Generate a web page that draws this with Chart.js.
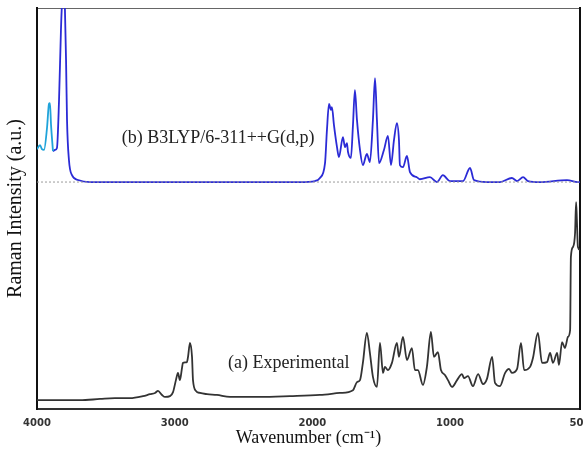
<!DOCTYPE html>
<html>
<head>
<meta charset="utf-8">
<script src="https://cdn.jsdelivr.net/npm/chart.js@4.4.0/dist/chart.umd.min.js"></script>
<style>
  html, body { margin: 0; padding: 0; background: #fff; overflow: hidden; }
  #wrap { width: 583px; height: 454px; overflow: hidden; }
</style>
</head>
<body>
<div id="wrap"><canvas id="ramanChart" width="600" height="454"></canvas></div>
<script>
// x tick marks (wavenumber, cm-1)
const xTickValues = [4000, 3000, 2000, 1000, 500];
const xTickLabels = ['4000', '3000', '2000', '1000', '500'];

// (b) calculated spectrum, first light-blue part
const calcCyanX = [4000, 3978, 3964, 3949, 3927, 3913, 3906, 3898, 3884];
const calcCyanY = [8.2, 9.2, 8.2, 8.0, 13.6, 19.5, 19.7, 14.2, 7.7];

// (b) calculated spectrum, rest
const calcX = [3884, 3869, 3855, 3840, 3826, 3818, 3804, 3797, 3789, 3782,
  3768, 3746, 3702, 3615, 2090, 1981, 1945, 1908, 1894, 1879,
  1865, 1858, 1843, 1821, 1807, 1778, 1763, 1749, 1741, 1720,
  1705, 1691, 1676, 1654, 1633, 1604, 1582, 1560, 1545, 1531,
  1516, 1480, 1451, 1429, 1407, 1386, 1371, 1364, 1342, 1313,
  1291, 1241, 1219, 1146, 1095, 1052, 1001, 950, 923, 908,
  858, 808, 762, 742, 719, 700, 654, 550, 508, 500];
const calcY = [7.7, 8.0, 8.5, 20.4, 37.9, 44.5, 46, 42.9, 30.4, 15.5,
  5.5, 1.7, 0.5, 0, 0, 0.25, 1.0, 4.7, 13.0, 19.5,
  18.0, 18.7, 14.2, 8.7, 6.2, 11.2, 8.7, 9.7, 7.5, 6.0,
  14.2, 22.9, 15.5, 8.0, 4.2, 7.0, 5.0, 15.5, 25.9, 15.5,
  4.7, 8.0, 11.5, 4.2, 10.5, 14.7, 10.5, 4.2, 3.7, 6.5,
  2.5, 1.2, 0.7, 1.2, 0, 1.7, 0.25, 0.25, 3.5, 0.5,
  0, 0, 1.0, 0.25, 1.2, 0.25, 0, 0.5, 0, 0];
const calcOffset = 56.6; // vertical shift of spectrum (b)

// (a) experimental spectrum
const expX = [4000, 3833, 3688, 3542, 3434, 3325, 3230, 3179, 3143, 3121,
  3092, 3070, 3034, 3012, 2991, 2976, 2962, 2947, 2940, 2911,
  2903, 2889, 2874, 2867, 2845, 2816, 2765, 2693, 2598, 2381,
  2163, 1945, 1800, 1705, 1676, 1654, 1633, 1604, 1582, 1560,
  1531, 1509, 1487, 1473, 1451, 1422, 1386, 1371, 1342, 1313,
  1277, 1255, 1233, 1197, 1168, 1139, 1117, 1088, 1066, 1037,
  1015, 992, 973, 954, 946, 931, 912, 892, 873, 858,
  838, 827, 808, 788, 773, 762, 742, 727, 715, 692,
  681, 662, 646, 627, 615, 604, 588, 581, 569, 558,
  546, 538, 535, 527, 519, 515, 512, 508, 500];
const expY = [2.2, 2.2, 2.2, 2.5, 2.7, 2.7, 3.2, 3.7, 4.0, 4.5,
  3.5, 3.0, 3.2, 4.2, 7.2, 9.0, 7.2, 10.2, 11.5, 11.7,
  13.0, 16.5, 13.0, 7.2, 4.5, 4.0, 3.7, 3.5, 3.0, 3.0,
  3.2, 3.5, 4.0, 4.7, 6.7, 7.2, 11.5, 19.0, 14.0, 8.0,
  5.5, 16.5, 9.0, 10.5, 9.7, 11.5, 16.5, 13.0, 18.0, 12.2,
  15.2, 9.7, 9.7, 6.0, 10.5, 19.2, 13.0, 14.2, 9.7, 8.5,
  7.2, 5.5, 7.2, 8.7, 7.7, 8.2, 5.7, 8.7, 6.2, 7.5,
  13.0, 6.5, 5.7, 9.0, 10.0, 9.0, 10.0, 16.5, 9.7, 10.5,
  12.7, 19.0, 11.5, 11.7, 14.0, 11.5, 14.0, 11.0, 16.7, 15.2,
  18.0, 19.7, 37.9, 40.4, 43.9, 51.6, 47.1, 40.4, 39.7];

// text labels inside the plot (wavenumber of left edge, intensity)
const annotTexts = ['(b) B3LYP/6-311++G(d,p)', '(a) Experimental'];
const annotX = [3385, 2613];
const annotY = [67.6, 11.5];

// the axis of the original is stretched below 1000 cm-1
function axisPos(w) {
  return w >= 1000 ? (4000 - w) / 1000 : 3 + (1000 - w) / 500 * 0.944;
}
function toPoints(xs, ys, off) {
  return xs.map((w, i) => ({ x: axisPos(w), y: ys[i] + off }));
}

const labelPlugin = {
  id: 'spectrumLabels',
  afterDatasetsDraw(chart) {
    const ctx = chart.ctx, xs = chart.scales.x, ys = chart.scales.y;
    ctx.save();
    ctx.fillStyle = '#222';
    ctx.font = '18px "Liberation Serif", "Times New Roman", serif';
    ctx.textBaseline = 'middle';
    annotTexts.forEach((t, i) => {
      ctx.fillText(t, xs.getPixelForValue(axisPos(annotX[i])), ys.getPixelForValue(annotY[i]));
    });
    ctx.restore();
  }
};

const serif = '"Liberation Serif", "Times New Roman", serif';
const xMax = axisPos(500);

var ramanChart = new Chart(document.getElementById('ramanChart'), {
  type: 'line',
  data: {
    datasets: [{
      data: toPoints([4000, 500], [0, 0], calcOffset),
      borderColor: '#9a9a9a',
      borderWidth: 1,
      borderDash: [2, 2]
    }, {
      data: toPoints(expX, expY, 0),
      borderColor: '#333',
      borderWidth: 1.8
    }, {
      data: toPoints(calcCyanX, calcCyanY, calcOffset),
      borderColor: '#1fa3da',
      borderWidth: 1.8
    }, {
      data: toPoints(calcX, calcY, calcOffset),
      borderColor: '#2b2bd6',
      borderWidth: 1.8
    }]
  },
  options: {
    responsive: false,
    animation: false,
    layout: { padding: 0 },
    elements: { point: { radius: 0 }, line: { cubicInterpolationMode: 'monotone' } },
    plugins: { legend: { display: false }, tooltip: { enabled: false } },
    scales: {
      x: {
        type: 'linear', position: 'bottom', min: 0, max: xMax,
        afterBuildTicks: s => { s.ticks = xTickValues.map(w => ({ value: axisPos(w) })); },
        afterFit: s => { s.height = 45; },
        grid: { display: false, drawTicks: false },
        border: { color: '#333', width: 2 },
        ticks: {
          autoSkip: false, maxRotation: 0, padding: 8, color: '#333',
          font: { family: 'DejaVu Sans', weight: 'bold', size: 10 },
          callback: (v, i) => xTickLabels[i]
        },
        title: {
          display: true, text: 'Wavenumber (cm\u207B\u00B9)', color: '#111',
          font: { family: serif, size: 18 }, padding: { top: 0, bottom: 5 }
        }
      },
      xTop: {
        type: 'linear', position: 'top', min: 0, max: xMax,
        afterFit: s => { s.height = 8; },
        grid: { display: false, drawTicks: false },
        ticks: { display: false },
        border: { color: '#666', width: 1 }
      },
      y: {
        type: 'linear', position: 'left', min: 0, max: 100,
        afterFit: s => { s.width = 37; },
        grid: { display: false, drawTicks: false },
        ticks: { display: false },
        border: { color: '#111', width: 2 },
        title: {
          display: true, text: 'Raman Intensity (a.u.)', color: '#111',
          font: { family: serif, size: 20 }, padding: { top: 4, bottom: 0 }
        }
      },
      yRight: {
        type: 'linear', position: 'right', min: 0, max: 100,
        afterFit: s => { s.width = 20; },
        grid: { display: false, drawTicks: false },
        ticks: { display: false },
        border: { color: '#111', width: 2 }
      }
    }
  },
  plugins: [labelPlugin]
});
</script>
</body>
</html>
